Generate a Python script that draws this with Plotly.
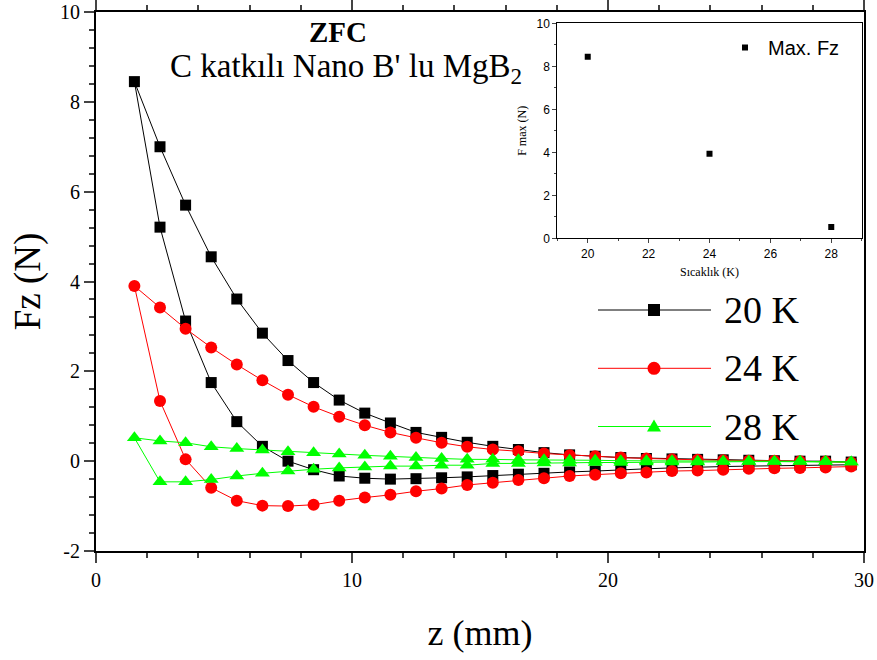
import plotly.graph_objects as go

# ---------------- data ----------------
z_mm = [1.5, 2.5, 3.5, 4.5, 5.5, 6.5, 7.5, 8.5, 9.5, 10.5, 11.5, 12.5, 13.5, 14.5, 15.5,
        16.5, 17.5, 18.5, 19.5, 20.5, 21.5, 22.5, 23.5, 24.5, 25.5, 26.5, 27.5, 28.5, 29.5]

# approach branch (upper), values at z_mm
fz20_up = [8.45, 7.00, 5.70, 4.55, 3.61, 2.85, 2.24, 1.75, 1.36, 1.07, 0.85, 0.64, 0.53, 0.42, 0.33,
           0.26, 0.19, 0.14, 0.11, 0.08, 0.06, 0.05, 0.04, 0.03, 0.02, 0.01, 0.00, 0.00, -0.02]
fz24_up = [3.90, 3.42, 2.95, 2.53, 2.15, 1.80, 1.48, 1.21, 0.99, 0.80, 0.64, 0.52, 0.41, 0.32, 0.26,
           0.22, 0.17, 0.13, 0.11, 0.08, 0.06, 0.04, 0.03, 0.02, 0.01, 0.01, 0.00, -0.01, -0.03]
fz28_up = [0.52, 0.45, 0.41, 0.32, 0.28, 0.25, 0.21, 0.19, 0.16, 0.13, 0.11, 0.08, 0.06, 0.04, 0.04,
           0.03, 0.03, 0.02, 0.02, 0.01, 0.01, 0.01, 0.00, 0.00, 0.00, 0.00, 0.00, -0.01, -0.02]

# retreat branch (lower), values at z_mm[1:]
fz20_down = [5.21, 3.12, 1.75, 0.88, 0.33, 0.00, -0.19, -0.33, -0.38, -0.40, -0.39, -0.37, -0.35, -0.32,
             -0.29, -0.27, -0.24, -0.22, -0.19, -0.17, -0.15, -0.13, -0.12, -0.11, -0.10, -0.09, -0.08, -0.08]
fz24_down = [1.34, 0.04, -0.59, -0.88, -0.99, -1.00, -0.97, -0.88, -0.81, -0.75, -0.67, -0.61, -0.53, -0.48,
             -0.42, -0.38, -0.33, -0.30, -0.27, -0.25, -0.22, -0.21, -0.19, -0.17, -0.16, -0.15, -0.14, -0.12]
fz28_down = [-0.46, -0.46, -0.41, -0.33, -0.27, -0.22, -0.18, -0.15, -0.13, -0.11, -0.11, -0.09, -0.09, -0.05,
             -0.05, -0.04, -0.04, -0.03, -0.03, -0.02, -0.02, -0.02, -0.01, -0.01, -0.01, -0.01, -0.01, -0.02]

series_names = ["20 K", "24 K", "28 K"]
series_colors = ["#000000", "#FF0000", "#00FF00"]
series_symbols = ["square", "circle", "triangle-up"]

x_ticks = [0, 10, 20, 30]
y_ticks = [-2, 0, 2, 4, 6, 8, 10]
y_ticklabels = ["-2", "0", "2", "4", "6", "8", "10"]

# inset data
temp_K = [20, 24, 28]
fmax_N = [8.45, 3.93, 0.52]
inset_x_ticks = [20, 22, 24, 26, 28]
inset_y_ticks = [0, 2, 4, 6, 8, 10]

SERIF = "Liberation Serif"
SANS = "Liberation Sans"

fig = go.Figure()

ups = [fz20_up, fz24_up, fz28_up]
downs = [fz20_down, fz24_down, fz28_down]
sizes = [11, 12, 13]
for name, col, sym, up, dn, sz in zip(series_names, series_colors, series_symbols, ups, downs, sizes):
    xs = list(reversed(z_mm)) + z_mm[1:]
    ys = list(reversed(up)) + dn
    fig.add_trace(go.Scatter(
        x=xs, y=ys, mode="lines+markers", name=name, showlegend=False,
        line=dict(color=col, width=1),
        marker=dict(symbol=sym, size=sz, color=col, line=dict(width=0)),
        xaxis="x", yaxis="y"))

fig.add_trace(go.Scatter(
    x=temp_K, y=fmax_N, mode="markers", name="Max. Fz", showlegend=True,
    marker=dict(symbol="square", size=6, color="#000000"),
    xaxis="x2", yaxis="y2"))

# ---------------- layout ----------------
L, R, T, B = 96, 13, 12, 109
W, H = 877, 660
pw, ph = W - L - R, H - T - B


def px2paper_x(px):
    return (px - L) / pw


def px2paper_y(py):
    return (H - B - py) / ph


fig.update_layout(
    width=W, height=H,
    margin=dict(l=L, r=R, t=T, b=B, pad=0, autoexpand=False),
    paper_bgcolor="white", plot_bgcolor="white",
    showlegend=True,
    legend=dict(x=px2paper_x(722), y=px2paper_y(28), xanchor="left", yanchor="top",
                bgcolor="rgba(0,0,0,0)", font=dict(family=SANS, size=20, color="black"),
                itemwidth=36, tracegroupgap=0),
    xaxis=dict(range=[0, 30], tickvals=x_ticks, ticks="outside", ticklen=10, tickwidth=1.5,
               minor=dict(dtick=2, ticks="outside", ticklen=5, tickwidth=1.5),
               showline=True, linewidth=2, linecolor="black", mirror="ticks", showgrid=False,
               zeroline=False, automargin=False,
               tickfont=dict(family=SERIF, size=20, color="black"),
               title=dict(text="z (mm)", font=dict(family=SERIF, size=36, color="black"), standoff=30)),
    yaxis=dict(range=[-2, 10], tickvals=y_ticks, ticktext=y_ticklabels, ticks="outside", ticklen=10,
               tickwidth=1.5,
               minor=dict(dtick=0.4, ticks="outside", ticklen=5, tickwidth=1.5),
               showline=True, linewidth=2, linecolor="black", mirror=True, showgrid=False,
               zeroline=False, automargin=False,
               tickfont=dict(family=SERIF, size=20, color="black"),
               title=dict(text="Fz (N)", font=dict(family=SERIF, size=37, color="black"), standoff=8)),
    xaxis2=dict(domain=[px2paper_x(557.3), px2paper_x(861.7)], anchor="y2", range=[19, 29],
                tickvals=inset_x_ticks, ticks="outside", ticklen=4, tickwidth=1,
                minor=dict(dtick=1, ticks="outside", ticklen=2, tickwidth=1),
                showline=True, linewidth=1, linecolor="black", mirror=True, showgrid=False,
                zeroline=False, automargin=False,
                tickfont=dict(family=SANS, size=12, color="black"),
                title=dict(text="Sıcaklık (K)", font=dict(family=SERIF, size=12, color="black"), standoff=7)),
    yaxis2=dict(domain=[px2paper_y(238.3), px2paper_y(23.3)], anchor="x2", range=[0, 10],
                tickvals=inset_y_ticks, ticks="outside", ticklen=4, tickwidth=1,
                minor=dict(dtick=1, ticks="outside", ticklen=2, tickwidth=1),
                showline=True, linewidth=1, linecolor="black", mirror=True, showgrid=False,
                zeroline=False, automargin=False,
                tickfont=dict(family=SANS, size=12, color="black"),
                title=dict(text="F max (N)", font=dict(family=SERIF, size=12, color="black"), standoff=7)),
)

# title annotations
fig.add_annotation(x=px2paper_x(338), y=px2paper_y(32), xref="paper", yref="paper",
                   text="<b>ZFC</b>", showarrow=False, xanchor="center", yanchor="middle",
                   font=dict(family=SERIF, size=29, color="black"))
fig.add_annotation(x=px2paper_x(168), y=px2paper_y(69), xref="paper", yref="paper",
                   text="C katkılı Nano B' lu MgB<sub>2</sub>", showarrow=False, xanchor="left", yanchor="middle",
                   font=dict(family=SERIF, size=33, color="black"))

# custom legend for the main series (long line samples)
leg_y = [310, 368.3, 426.5]
for name, col, sym, ypx in zip(series_names, series_colors, series_symbols, leg_y):
    yp = px2paper_y(ypx)
    fig.add_shape(type="line", xref="paper", yref="paper",
                  x0=px2paper_x(598), x1=px2paper_x(711), y0=yp, y1=yp,
                  line=dict(color=col, width=1))
    common = dict(xref="paper", yref="paper", xsizemode="pixel", ysizemode="pixel",
                  xanchor=px2paper_x(654), yanchor=yp, fillcolor=col, line=dict(width=0))
    if sym == "square":
        fig.add_shape(type="rect", x0=-6, x1=6, y0=-6, y1=6, **common)
    elif sym == "circle":
        fig.add_shape(type="circle", x0=-6.5, x1=6.5, y0=-6.5, y1=6.5, **common)
    else:
        fig.add_shape(type="path", path="M-7,-5 L7,-5 L0,7 Z", **common)
    fig.add_annotation(x=px2paper_x(722), y=yp, xref="paper", yref="paper", text=name,
                       showarrow=False, xanchor="left", yanchor="middle",
                       font=dict(family=SERIF, size=38, color="black"))

fig.write_html("out.html")
